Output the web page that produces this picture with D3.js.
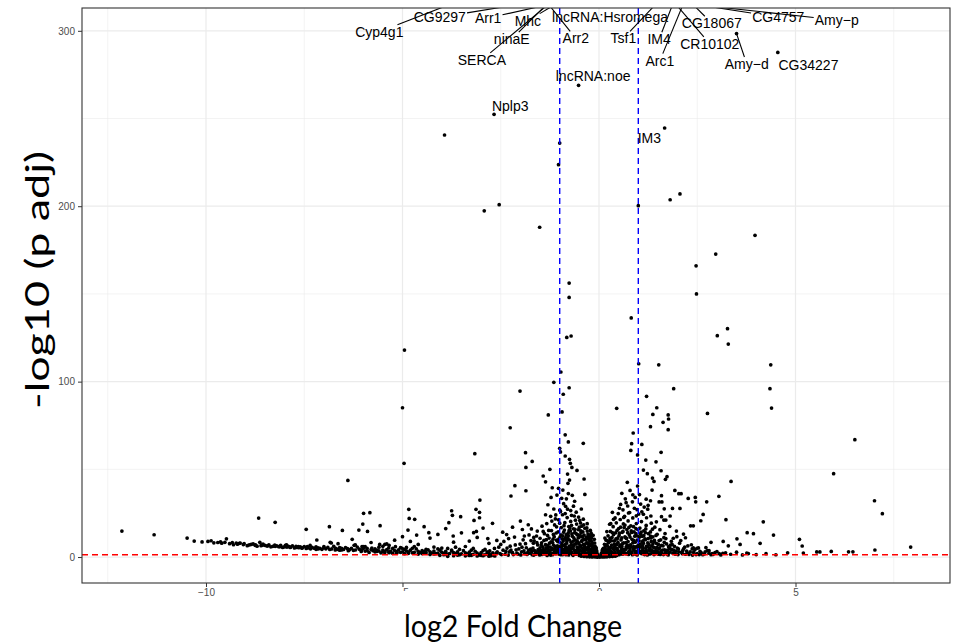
<!DOCTYPE html>
<html>
<head>
<meta charset="utf-8">
<script src="https://cdn.jsdelivr.net/npm/d3@7"></script>
<style>
  body { margin: 0; background: #fff; }
  svg { display: block; }
</style>
</head>
<body>
<div id="chart"></div>
<script>
// ---- data: [log2 fold change, -log10 p adj] ----
var topHits = [
  [-3.93,240.6],[-1.0,236],[-1.03,223.7],[-2.54,200.9],[-2.92,197.4],[-1.51,188],
  [1.0,200.3],[1.81,203.7],[2.06,207],[3.97,183.4],[2.97,172.7],[2.47,166],
  [2.48,150],[-0.76,156.2],[-0.76,148],[0.82,136.3],[-0.82,125.2],[-0.71,126],
  [3.27,130.2],[3.01,126.2],[3.29,121.4],[-4.95,118],[1.01,110.2],[1.52,109.6],
  [4.37,109.6],[-0.97,105.5],[-1.15,99.6],[-0.76,96.5],[1.9,96],[4.35,96],
  [-2.01,94.6],[-0.91,92.8],[-5.0,85.1],[0.45,84.8]
]

var midScatter = [
  [-0.94,82.7],[-1.29,81.0],[-4.96,53.4],[-2.26,73.7],[-0.86,69.7],[-0.40,64.8],[-0.78,65.6],
  [-1.0,62.0],[-0.98,59.9],[-1.87,59.5],[-1.70,54.5],[-0.86,57.6],[-0.75,55.7],[-3.16,58.9],
  [-0.73,53.4],[-1.86,51.1],[-1.25,50.0],[-0.69,51.1],[-0.56,49.4],[-1.42,46.2],[-0.80,47.3],
  [-1.36,42.9],[-0.38,44.5],[-2.14,40.7],[-0.75,43.9],[-0.79,42.0],[-1.19,39.5],[-1.03,39.2],
  [-0.92,38.2],[-1.86,37.8],[-2.24,34.8],[-1.07,35.3],[-1.22,34.0],[-0.83,33.2],[-0.68,35.2],
  [-0.36,35.7],[-3.03,32.5],[-4.84,27.2],[-3.13,27.2],[-3.04,25.5],[-3.75,26.4],[-4.83,22.0],
  [-4.69,21.5],[-3.04,22.4],[-3.73,23.8],[-3.82,19.6],[-3.52,23.0],[-2.71,19.2],[-3.18,20.9],
  [-1.36,24.1],[-1.0,26.8],[-4.45,17.3],[-4.33,13.9],[-4.86,15.4],[-5.57,17.9],[-3.19,13.9],
  [-3.12,14.6],[-4.64,12.5],[-3.71,12.0],[-2.83,10.5],
  [-12.14,14.8],[-11.32,12.7],[-10.48,10.8],[-9.87,9.3],[-9.63,8.7],[-9.52,8.4],[-9.48,10.4],
  [-9.33,8.2],[-9.23,8.0],[-9.13,8.0],[-9.03,7.6],[-8.85,7.2],[-8.74,7.0],[-8.66,22.2],
  [-8.63,8.4],[-8.58,6.8],[-8.50,6.7],[-8.43,6.4],[-8.24,19.8],[-8.24,6.1],[-8.12,5.9],
  [-7.98,6.7],[-7.94,5.7],[-7.86,5.5],[-7.71,6.1],[-7.64,5.3],[-7.56,5.0],[-7.45,15.8],
  [-7.42,5.9],[-7.34,4.7],[-7.18,9.7],[-7.15,5.3],[-7.05,4.4],[-6.86,17.3],[-6.84,8.4],
  [-6.81,8.0],[-6.64,7.6],[-6.53,15.2],[-6.39,43.7],[-6.28,10.1],[-6.23,6.7],[-6.11,15.4],
  [-6.01,18.8],[-5.99,24.9],[-5.89,14.6],[-5.83,25.3],[-5.58,7.2],[-5.45,7.2],[-5.34,6.7],
  [-5.18,5.9],[-5.01,5.0],[-6.71,4.0],[-6.38,3.6],[-6.03,5.9],[-5.95,5.9],[-5.78,5.1],
  [-5.70,3.0],[-5.50,3.0],[-5.34,2.5],[-5.14,2.5],
  [4.39,84.9],[1.21,91.6],[1.47,85.1],[1.37,81.3],[2.76,81.9],[1.76,81.0],[1.77,78.7],
  [1.63,76.8],[1.31,74.3],[1.76,72.6],[0.87,70.7],[0.83,64.6],[1.09,64.2],[1.58,59.7],
  [0.81,60.8],[6.51,66.9],[1.19,55.3],[1.45,54.3],[0.98,58.2],[1.58,49.2],[1.13,49.6],
  [1.23,47.5],[1.36,45.0],[1.40,43.1],[1.73,45.8],[1.69,44.3],[5.97,47.5],[3.36,43.1],
  [1.93,38.0],[2.03,36.1],[2.09,36.1],[1.59,35.0],[1.35,38.2],[2.27,33.4],[2.45,34.0],
  [2.46,31.5],[2.74,31.5],[3.05,34.6],[1.25,29.5],[1.31,32.1],[1.53,31.4],[1.60,31.4],
  [1.66,27.5],[1.87,27.7],[2.06,27.7],[2.65,24.3],[2.59,20.7],[7.01,32.1],[7.21,24.7],
  [3.23,21.3],[4.18,20.1],[2.33,17.8],[2.40,17.8],[1.81,23.4],[1.65,21.1],[1.70,21.1],
  [1.59,23.0],[3.77,13.9],[3.93,13.3],[4.44,12.5],[3.51,10.4],[3.59,7.2],[2.85,8.4],
  [3.29,6.4],[4.10,7.8],[5.10,10.1],[5.17,6.3],[5.20,2.3],[5.54,2.9],[5.62,2.9],
  [5.91,3.2],[6.35,3.0],[6.46,3.0],[7.02,4.0],[7.93,5.7],[3.16,8.9],[2.80,3.6],
  [3.76,2.3],[2.15,13.1],[1.98,11.6],[1.89,10.7],[2.49,5.0],[2.40,5.3],[2.88,1.9],
  [3.06,1.9],[3.15,2.1]
]

var leftCore = [
  [-1.62,2.1],[-1.55,4.3],[-1.51,1.2],[-1.47,6.8],[-1.44,3.1],[-1.40,9.5],[-1.38,1.8],[-1.35,5.2],
  [-1.31,12.4],[-1.29,3.6],[-1.26,7.9],[-1.23,1.1],[-1.21,15.1],[-1.19,4.8],[-1.17,10.2],[-1.15,2.5],
  [-1.13,18.3],[-1.11,6.1],[-1.09,13.7],[-1.07,3.3],[-1.05,8.8],[-1.03,21.2],[-1.01,1.6],[-0.99,11.5],
  [-0.97,5.4],[-0.96,16.8],[-0.94,2.7],[-0.93,24.1],[-0.91,9.1],[-0.90,14.2],[-0.88,4.2],[-0.87,19.6],
  [-0.85,7.3],[-0.84,1.3],[-0.83,12.8],[-0.81,22.5],[-0.80,3.9],[-0.79,10.6],[-0.77,17.4],[-0.76,6.2],
  [-0.75,2.2],[-0.73,14.9],[-0.72,20.3],[-0.71,8.4],[-0.69,4.6],[-0.68,11.9],[-0.67,1.5],[-0.65,16.1],
  [-0.64,6.9],[-0.63,23.4],[-0.61,9.8],[-0.60,3.2],[-0.59,13.5],[-0.57,18.8],[-0.56,5.7],[-0.55,2.0],
  [-0.53,10.9],[-0.52,15.6],[-0.51,7.6],[-0.49,3.8],[-0.48,12.2],[-0.47,19.4],[-0.45,1.7],[-0.44,8.9],
  [-0.43,5.1],[-0.41,14.3],[-0.40,2.9],[-0.39,10.1],[-0.37,6.6],[-0.36,16.4],[-0.35,1.4],[-0.33,4.4],
  [-0.32,11.3],[-0.31,8.1],[-0.29,2.4],[-0.28,13.1],[-0.27,5.9],[-0.25,3.5],[-0.24,9.4],[-0.23,1.9],
  [-0.21,7.2],[-0.20,4.1],[-0.19,11.0],[-0.17,2.6],[-0.16,6.0],[-0.15,1.2],[-0.13,4.7],[-0.12,2.3],
  [-0.11,8.0],[-0.09,3.4],[-0.08,1.5],[-0.07,5.2],[-0.05,2.0],[-0.04,0.9],[-0.03,1.3],
  [-1.58,8.2],[-1.49,3.9],[-1.42,14.6],[-1.36,7.1],[-1.33,2.6],[-1.27,10.8],[-1.24,5.6],[-1.18,8.3],
  [-1.16,12.9],[-1.12,3.0],[-1.08,17.2],[-1.06,6.4],[-1.02,10.4],[-0.98,2.1],[-0.95,7.7],[-0.92,12.1],
  [-0.89,17.9],[-0.86,3.4],[-0.82,9.3],[-0.78,13.8],[-0.74,4.9],[-0.70,18.1],[-0.66,9.0],[-0.62,14.0],
  [-0.58,7.9],[-0.54,12.6],[-0.50,17.0],[-0.46,6.3],[-0.42,11.6],[-0.38,4.0],[-0.34,9.7],[-0.30,14.8],
  [-0.26,7.7],[-0.22,12.4],[-0.18,8.6],[-0.14,3.1],[-0.10,6.2],[-0.06,3.6],
  [-0.96,5.9],[-0.86,10.4],[-0.76,15.2],[-0.66,5.0],[-0.56,9.2],[-0.46,13.8],[-0.36,7.4],[-0.26,10.5],
  [-0.86,24.8],[-0.72,26.5],[-0.60,21.0],[-0.52,22.8],[-0.44,17.6],[-1.0,19.3],[-1.1,24.0],[-1.2,20.5],
  [-0.8,27.3],[-0.65,29.0],[-0.9,30.4],[-0.4,21.6],[-0.3,19.0],[-0.22,15.2],[-0.15,12.4],
  [-2.61,2.3],[-2.55,5.6],[-2.48,1.4],[-2.42,8.9],[-2.37,3.2],[-2.31,1.1],[-2.26,6.2],[-2.2,2.5],
  [-2.15,11.4],[-2.11,4.1],[-2.06,1.7],[-2.01,7.4],[-1.97,3.0],[-1.93,9.8],[-1.89,1.9],[-1.85,5.3],
  [-1.81,2.8],[-1.78,12.6],[-1.74,4.5],[-1.7,1.3],[-1.67,7.9],[-1.64,3.7],[-2.45,14.2],[-2.3,10.5],
  [-1.95,15.7],[-1.8,18.4],[-1.66,11.2],[-1.72,16.0],[-2.2,17.0],[-2.0,20.5]
]

var leftCoreExtra = [
  [-1.68,5.1],[-1.65,9.3],[-1.61,1.6],[-1.59,12.0],[-1.56,6.9],[-1.53,3.4],[-1.5,10.7],[-1.48,1.9],
  [-1.46,8.1],[-1.43,5.8],[-1.41,2.4],[-1.39,13.3],[-1.37,4.0],[-1.34,9.9],[-1.32,0.9],[-1.3,6.5],
  [-1.28,15.2],[-1.25,2.9],[-1.22,8.7],[-1.2,4.4],[-1.18,1.3],[-1.16,6.8],[-1.14,11.6],[-1.12,5.2],
  [-1.1,1.9],[-1.08,9.6],[-1.06,3.8],[-1.04,14.4],[-1.02,6.0],[-1.0,2.6],[-0.99,8.2],[-0.97,12.7],
  [-0.95,3.9],[-0.93,10.3],[-0.92,1.4],[-0.9,6.6],[-0.88,15.4],[-0.87,2.5],[-0.85,11.1],[-0.83,5.3],
  [-0.82,8.0],[-0.8,1.9],[-0.78,12.2],[-0.77,4.5],[-0.75,9.7],[-0.74,16.6],[-0.72,3.0],[-0.7,7.0],
  [-0.69,13.2],[-0.67,5.6],[-0.66,1.0],[-0.64,10.9],[-0.62,3.7],[-0.61,15.8],[-0.59,7.5],[-0.58,1.6],
  [-0.56,12.9],[-0.54,4.7],[-0.53,8.5],[-0.51,2.2],[-0.5,11.4],[-0.48,6.5],[-0.46,15.0],[-0.45,3.4],
  [-0.43,9.6],[-0.41,1.1],[-0.4,7.1],[-0.38,12.5],[-0.37,2.9],[-0.35,5.5],[-0.33,10.2],[-0.32,1.7],
  [-0.3,7.9],[-0.28,4.2],[-0.27,11.8],[-0.25,1.2],[-0.24,6.4],[-0.22,3.1],[-0.21,9.5],[-0.19,2.2],
  [-0.18,5.0],[-0.16,7.8],[-0.15,3.6],[-0.13,1.6],[-0.12,5.7],[-0.1,2.7],[-0.09,4.3],[-0.07,1.1],
  [-0.06,2.9],
  [-1.57,14.8],[-1.45,17.6],[-1.33,19.1],[-1.23,23.2],[-1.11,21.7],[-0.98,26.0],[-0.85,28.9],
  [-0.7,23.8],[-0.58,25.6],[-0.49,20.9],[-0.39,18.3],[-0.31,16.6],[-0.2,13.6],[-0.12,10.1],
  [-1.15,27.4],[-0.95,33.5],[-0.62,31.8],[-0.78,36.2],[-1.3,29.8],[-0.45,27.4],
  [-2.78,3.5],[-2.7,1.8],[-2.66,4.9],[-2.59,3.0],[-2.52,2.0],[-2.5,7.2],[-2.44,3.9],[-2.39,1.6],
  [-2.34,5.1],[-2.28,2.9],[-2.24,4.0],[-2.18,1.4],[-2.13,6.9],[-2.09,2.3],[-2.04,4.6],[-1.99,1.2],
  [-1.96,5.6],[-1.91,3.5],[-1.87,7.6],[-1.83,1.5],[-1.79,4.0],[-1.76,2.2],[-1.73,9.4],[-1.71,3.2],
  [-2.35,12.8],[-1.9,12.0],[-2.6,9.5]
]

var rightCore = [
  [0.05,0.9],[0.06,2.1],[0.08,3.4],[0.09,1.4],[0.11,5.0],[0.12,2.6],[0.14,7.3],[0.15,1.2],
  [0.17,4.2],[0.18,9.6],[0.20,2.9],[0.21,6.5],[0.23,12.1],[0.24,1.7],[0.26,4.8],[0.27,8.9],
  [0.29,14.6],[0.30,3.1],[0.32,6.8],[0.33,11.2],[0.35,1.5],[0.36,17.3],[0.38,5.4],[0.39,9.2],
  [0.41,2.5],[0.42,13.8],[0.44,19.5],[0.45,7.1],[0.47,3.9],[0.48,11.0],[0.50,16.2],[0.51,1.3],
  [0.53,5.9],[0.54,21.4],[0.56,9.7],[0.57,2.8],[0.59,14.1],[0.60,7.6],[0.62,18.9],[0.63,4.3],
  [0.65,23.2],[0.66,11.5],[0.68,1.9],[0.69,8.3],[0.71,15.7],[0.72,5.2],[0.74,20.6],[0.75,3.0],
  [0.77,12.7],[0.78,25.4],[0.80,7.0],[0.81,17.8],[0.83,2.1],[0.84,10.1],[0.86,22.3],[0.87,4.7],
  [0.89,14.4],[0.90,27.8],[0.92,8.5],[0.93,1.6],[0.95,19.1],[0.96,6.0],[0.98,12.0],[0.99,3.6],
  [1.01,24.5],[1.02,9.3],[1.04,16.5],[1.05,2.4],[1.07,5.8],[1.08,20.2],[1.10,11.8],[1.11,3.9],
  [1.13,7.8],[1.14,15.0],[1.16,1.4],[1.17,10.4],[1.19,5.1],[1.20,18.0],[1.22,2.9],[1.24,8.1],
  [1.26,13.3],[1.28,4.4],[1.30,1.8],[1.32,10.9],[1.34,6.3],[1.36,15.9],[1.38,3.3],[1.40,8.7],
  [1.43,2.0],[1.45,12.3],[1.47,5.5],[1.50,3.0],[1.53,9.4],[1.56,1.5],[1.59,6.6],[1.62,4.0],
  [1.65,11.1],[1.69,2.6],[1.72,7.5],[1.76,1.2],[1.80,4.9],[1.84,9.0],[1.88,2.2],[1.92,6.1],
  [1.96,3.4],[2.01,1.4],[2.05,7.9],[2.10,2.7],[2.15,4.6],[2.2,1.6],[2.26,6.4],[2.32,2.9],
  [2.38,1.1],[2.44,4.2],[2.5,2.0],[2.57,3.3],[2.64,1.3],[2.72,5.4],[2.8,2.2],[2.9,1.5],
  [3.0,3.1],[3.1,1.2],[3.22,2.4],[3.35,1.6],[3.5,2.8],[3.65,1.2],[3.8,2.0],[4.0,1.4],
  [4.25,1.9],[4.5,1.3],[4.8,2.4],
  [0.16,5.8],[0.22,9.3],[0.28,3.6],[0.34,14.0],[0.40,6.1],[0.46,10.3],[0.52,13.6],[0.58,4.9],
  [0.64,16.8],[0.70,10.6],[0.76,6.4],[0.82,14.9],[0.88,9.5],[0.94,16.2],[1.00,6.8],[1.06,13.0],
  [1.12,9.2],[1.18,13.9],[1.25,5.9],[1.31,12.0],[1.37,7.4],[1.44,5.0],[1.51,7.2],[1.58,3.5],
  [1.66,8.4],[1.74,3.9],[1.82,6.8],[0.37,21.5],[0.49,24.8],[0.61,26.9],[0.73,29.1],[0.85,31.5],
  [0.97,27.0],[1.09,25.8],[1.21,22.4],[1.33,19.3],[1.42,17.0],[0.55,30.0],[0.92,34.0],[0.67,33.2],
  [1.15,28.5],[0.3,19.0],[0.2,14.5],[1.03,35.6],[0.79,38.0]
]

var rightCoreExtra = [
  [0.07,1.6],[0.1,3.1],[0.13,4.4],[0.16,2.2],[0.19,6.9],[0.21,3.9],[0.24,8.2],[0.25,5.3],
  [0.28,10.6],[0.31,2.2],[0.32,9.3],[0.35,4.9],[0.37,12.8],[0.39,7.4],[0.4,1.8],[0.43,10.3],
  [0.44,4.6],[0.46,15.2],[0.48,8.4],[0.49,2.6],[0.51,12.3],[0.53,6.9],[0.55,17.0],[0.56,3.7],
  [0.58,10.9],[0.6,1.6],[0.61,14.6],[0.63,8.1],[0.65,3.9],[0.66,18.2],[0.68,11.0],[0.69,5.7],
  [0.71,2.0],[0.73,13.9],[0.74,8.8],[0.76,16.9],[0.78,3.3],[0.79,11.4],[0.81,6.0],[0.83,14.0],
  [0.85,1.3],[0.86,8.1],[0.88,17.3],[0.89,4.2],[0.91,11.9],[0.93,5.6],[0.94,13.3],[0.96,2.8],
  [0.97,9.7],[0.99,15.7],[1.01,4.8],[1.03,11.4],[1.05,7.4],[1.07,14.2],[1.09,1.9],[1.1,8.6],
  [1.12,5.0],[1.14,12.2],[1.16,3.1],[1.18,9.9],[1.19,16.0],[1.21,6.2],[1.23,1.2],[1.25,10.5],
  [1.27,7.2],[1.29,3.6],[1.31,14.3],[1.33,8.9],[1.35,2.2],[1.37,11.5],[1.39,5.5],[1.41,9.5],
  [1.44,3.4],[1.46,7.8],[1.48,13.0],[1.51,1.6],[1.54,5.3],[1.57,9.8],[1.6,2.2],[1.63,6.4],
  [1.67,4.1],[1.7,10.5],[1.73,1.7],[1.77,5.9],[1.81,2.9],[1.86,7.2],[1.9,3.9],[1.94,1.6],
  [1.99,5.1],[2.03,3.0],[2.08,9.4],[2.12,1.9],[2.18,5.6],[2.23,3.4],[2.29,1.5],[2.35,7.0],
  [2.41,2.8],[2.47,1.4],[2.53,5.2],[2.6,2.5],[2.68,1.8],[2.76,3.7],[2.85,1.3],[2.95,2.5],
  [0.27,18.7],[0.41,22.3],[0.52,27.8],[0.63,22.6],[0.69,31.0],[0.75,25.1],[0.86,35.5],[0.95,23.5],
  [1.06,30.2],[1.13,24.4],[1.24,27.3],[1.32,23.4],[1.46,20.1],[1.55,15.6],[1.68,13.4],[1.8,17.5],
  [1.97,14.8],[2.2,11.0],[0.58,36.3],[0.98,40.5],[0.72,42.6],[1.2,33.0],[0.15,10.8],[0.34,25.5]
]

var coreBottom = [
  [-1.66,1.1],[-1.6,3.0],[-1.54,2.0],[-1.5,5.3],[-1.45,1.5],[-1.42,4.2],[-1.36,2.9],[-1.31,4.9],
  [-1.27,1.6],[-1.24,3.9],[-1.19,2.0],[-1.14,4.4],[-1.09,2.6],[-1.05,5.3],[-1.01,3.6],[-0.97,1.3],
  [-0.93,4.5],[-0.89,2.3],[-0.85,5.5],[-0.81,3.0],[-0.77,1.2],[-0.73,4.2],[-0.69,2.6],[-0.65,6.6],
  [-0.61,1.9],[-0.57,4.0],[-0.53,2.6],[-0.49,5.6],[-0.44,1.4],[-0.4,4.6],[-0.36,3.0],[-0.31,5.1],
  [-0.27,1.6],[-0.23,4.3],[-0.19,3.2],[-0.15,5.1],[-0.11,1.6],[-0.08,3.0],
  [0.09,4.3],[0.13,1.8],[0.17,3.5],[0.21,1.0],[0.26,2.8],[0.3,5.6],[0.34,2.5],[0.38,4.0],
  [0.42,1.3],[0.46,5.0],[0.5,3.2],[0.54,1.8],[0.58,6.2],[0.62,2.6],[0.67,4.3],[0.71,6.8],
  [0.75,1.5],[0.79,4.6],[0.84,2.9],[0.88,6.0],[0.92,3.2],[0.97,1.2],[1.01,5.5],[1.06,3.3],
  [1.11,6.4],[1.15,2.3],[1.2,4.0],[1.25,1.6],[1.3,5.0],[1.35,3.7],[1.4,1.4],[1.46,3.4],
  [1.52,4.6],[1.57,2.6],[1.64,1.4],[1.71,3.4],[1.78,2.4],[1.85,4.4],[1.93,2.4],[2.02,4.6],
  [2.13,3.6],[2.25,2.2],[2.37,4.6],[2.55,1.4],[2.7,2.9]
]

var leftTail = [
  [-10.1,8.6],[-9.8,8.1],[-9.6,7.9],[-9.4,7.6],[-9.2,7.3],[-9.05,7.1],[-8.9,6.9],[-8.75,6.7],
  [-8.6,6.5],[-8.45,6.3],[-8.3,6.1],[-8.15,5.9],[-8.0,5.8],[-7.85,5.6],[-7.7,5.5],[-7.55,5.3],
  [-7.4,5.2],[-7.25,5.0],[-7.1,4.9],[-6.95,4.7],[-6.8,4.6],[-6.65,4.4],[-6.5,4.3],[-6.35,4.1],
  [-6.2,4.0],[-6.05,3.9],[-5.9,3.7],[-5.75,3.6],[-5.6,3.5],[-5.45,3.3],[-5.3,3.2],[-5.15,3.1],
  [-5.0,3.0],[-4.85,2.8],[-4.7,2.7],[-4.55,2.6],[-4.4,2.5],[-4.25,2.3],[-4.1,2.2],[-3.95,2.1],
  [-3.8,2.0],[-3.65,1.9],[-3.5,1.8],[-3.35,1.7],[-3.2,1.5],[-3.05,1.4],[-2.9,1.3],[-2.75,1.2],
  [-8.8,7.5],[-8.4,7.0],[-8.1,6.6],[-7.8,6.4],[-7.5,6.0],[-7.2,5.8],[-6.9,5.5],[-6.6,5.4],
  [-6.3,5.0],[-6.0,4.8],[-5.7,4.6],[-5.4,4.3],[-5.1,4.1],[-4.8,3.9],[-4.5,3.6],[-4.2,3.4],
  [-3.9,3.2],[-3.6,3.0],[-3.3,2.8],[-3.0,2.6],[-2.7,2.4],
  [-6.2,6.9],[-5.8,8.3],[-5.5,6.1],[-5.2,9.6],[-4.9,5.5],[-4.6,7.2],[-4.3,10.8],[-4.0,5.1],
  [-3.7,8.5],[-3.4,6.0],[-3.1,11.2],[-2.9,4.4],[-2.8,7.8],[-4.1,12.9],[-3.5,13.8],[-5.0,11.6],
  [-4.8,8.9],[-3.3,9.1],[-2.95,16.5],[-3.9,16.2],[-4.45,3.1],[-5.35,5.2],[-3.75,4.0],
  [-4.05,1.0],[-3.7,0.8],[-3.4,0.7],[-3.1,0.6],[-2.8,0.5],[-3.85,0.4],[-3.55,1.3],[-3.25,1.0],
  [-2.95,0.8],[-2.65,0.6]
]

var leftTailExtra = [
  [-8.95,6.5],[-8.7,6.2],[-8.55,6.9],[-8.35,5.8],[-8.2,6.4],[-8.05,5.5],[-7.9,6.1],[-7.75,5.2],
  [-7.6,5.8],[-7.45,4.9],[-7.3,5.5],[-7.15,4.6],[-7.0,5.3],[-6.85,4.3],[-6.7,5.0],[-6.55,4.0],
  [-6.4,4.8],[-6.25,3.8],[-6.1,4.5],[-5.95,3.4],[-5.8,4.2],[-5.65,3.2],[-5.5,4.0],[-5.35,2.9],
  [-5.2,3.7],[-5.05,2.7],[-4.9,3.5],[-4.75,2.4],[-4.6,3.3],[-4.45,2.2],[-4.3,3.0],[-4.15,1.9],
  [-4.0,2.8],[-3.85,1.7],[-3.7,2.6],[-3.55,1.5],[-3.4,2.4],[-3.25,1.3],[-3.1,2.2],[-2.95,1.1],
  [-2.8,2.0],[-2.68,1.0],
  [-6.0,6.0],[-5.6,5.6],[-5.25,4.9],[-4.95,4.4],[-4.65,4.6],[-4.35,4.1],[-4.05,3.9],[-3.75,3.5],
  [-3.45,3.6],[-3.15,3.3],[-2.85,3.0],[-5.85,2.6],[-5.55,2.4],[-5.25,2.1],[-4.95,1.9],[-4.6,1.7],
  [-4.3,1.5],[-3.95,1.3],[-3.6,1.1],[-3.3,0.9],[-3.0,1.0],[-2.75,0.8],
  [-9.3,7.0],[-9.7,8.3],[-9.95,8.9],[-10.3,9.1],[-9.15,7.8],[-8.55,7.4],[-7.95,7.0],[-7.35,6.6],
  [-6.75,6.1],[-6.15,5.7],[-5.4,7.5],[-4.7,6.0],[-4.2,5.7],[-3.65,5.6],[-3.2,4.9],
  [-7.0,6.0],[-6.45,5.4],[-5.9,5.0],[-5.65,4.0],[-5.45,2.6],[-5.15,2.3],[-4.85,2.1],[-4.5,2.0],
  [-4.2,1.8],[-3.9,1.7],[-3.6,1.5],[-3.35,1.4],[-3.05,1.2],[-2.85,1.6],[-4.4,4.4],[-4.1,4.6],
  [-3.85,4.9],[-3.55,4.4],[-3.25,3.9],[-2.95,3.6],[-4.75,5.0],[-5.05,5.4],[-6.55,4.9],[-7.65,5.9],
  [-8.25,6.8],[-6.05,3.2],[-6.6,3.9],[-7.2,4.4]
]

var nullCluster = [
  [-0.45,0.5],[-0.38,0.3],[-0.31,0.2],[-0.24,0.1],[-0.17,0.05],[-0.1,0.02],[-0.04,0.0],[0.02,0.0],
  [0.08,0.03],[0.14,0.08],[0.2,0.15],[0.27,0.25],[0.34,0.35],[0.41,0.5],[-0.2,0.35],[0.1,0.3],
  [-0.05,0.2],[0.25,0.6],[0.45,0.9],[-0.5,0.9]
]

// labelled genes (points above the panel are clipped, only their segments show)
var geneNames = ["Cyp4g1","CG9297","Arr1","Mhc","ninaE","SERCA","Arr2","lncRNA:Hsromega",
  "Tsf1","IM4","Arc1","CG18067","CR10102","CG4757","Amy\u2212p","Amy\u2212d","CG34227",
  "lncRNA:noe","Nplp3","IM3"]
var geneLfc = [-3.22,-0.69,-0.27,-0.74,-1.11,-1.03,-1.46,0.28,1.65,1.96,2.23,2.17,1.77,1.05,0.36,
  3.5,4.55,-0.52,-2.67,1.67]
var genePadj = [320,320,320,320,320,320,320,320,320,320,320,320,320,320,320,
  298.4,287.7,268.9,252.4,244.6]
// repelled label anchor (data units)
var labelAt = [[-5.59,299.5],[-4.05,307.7],[-2.82,307.3],[-1.81,305.8],[-2.22,295.2],[-2.98,283.4],
  [-0.59,295.7],[0.28,307.7],[0.62,295.7],[1.53,295.2],[1.55,283.0],[2.87,304.3],[2.82,292.5],
  [4.56,307.7],[6.05,306.2],[3.76,281.1],[5.33,280.5],[-0.15,274.2],[-2.26,257.1],[1.28,238.7]]

var fcCut = [-1, 1]
var padjCut = 1.3
var xTicks = [-10, -5, 0, 5]
var yTicks = [0, 100, 200, 300]

// ---- layout ----
var margin = { left: 82, right: 7, top: 8, bottom: 61 }
var chartWidth = 957
var chartHeight = 644
var width = chartWidth - margin.left - margin.right
var height = chartHeight - margin.top - margin.bottom

var svg = d3.select("#chart")
  .append("svg")
  .attr("width", chartWidth)
  .attr("height", chartHeight)

svg.append("defs").append("clipPath").attr("id", "panel")
  .append("rect").attr("width", width).attr("height", height)

var g = svg.append("g").attr("transform", "translate(" + margin.left + "," + margin.top + ")")

var x = d3.scaleLinear().domain([-13.155, 8.931]).range([0, width])
var y = d3.scaleLinear().domain([-14.8, 313]).range([height, 0])

// grid (theme_bw)
var xMinor = [-12.5, -7.5, -2.5, 2.5, 7.5]
var yMinor = [50, 150, 250]
g.selectAll(".vminor").data(xMinor).enter().append("line")
  .attr("x1", d => x(d)).attr("x2", d => x(d)).attr("y1", 0).attr("y2", height)
  .attr("stroke", "#ebebeb").attr("stroke-width", 0.6)
g.selectAll(".hminor").data(yMinor).enter().append("line")
  .attr("y1", d => y(d)).attr("y2", d => y(d)).attr("x1", 0).attr("x2", width)
  .attr("stroke", "#ebebeb").attr("stroke-width", 0.6)
g.selectAll(".vmajor").data(xTicks).enter().append("line")
  .attr("x1", d => x(d)).attr("x2", d => x(d)).attr("y1", 0).attr("y2", height)
  .attr("stroke", "#ebebeb").attr("stroke-width", 1.2)
g.selectAll(".hmajor").data(yTicks).enter().append("line")
  .attr("y1", d => y(d)).attr("y2", d => y(d)).attr("x1", 0).attr("x2", width)
  .attr("stroke", "#ebebeb").attr("stroke-width", 1.2)

// points
var allPoints = [].concat(nullCluster, leftTail, leftTailExtra, leftCore, leftCoreExtra,
  rightCore, rightCoreExtra, coreBottom, midScatter, topHits)
var plot = g.append("g").attr("clip-path", "url(#panel)")
plot.selectAll("circle.pt").data(allPoints).enter().append("circle")
  .attr("cx", d => x(d[0])).attr("cy", d => y(d[1])).attr("r", 1.85)
  .attr("fill", "#000")
plot.selectAll("circle.gene").data(geneNames).enter().append("circle")
  .attr("cx", (d, i) => x(geneLfc[i])).attr("cy", (d, i) => y(genePadj[i])).attr("r", 1.85)
  .attr("fill", "#000")

// thresholds
plot.selectAll(".vcut").data(fcCut).enter().append("line")
  .attr("x1", d => x(d)).attr("x2", d => x(d)).attr("y1", 0).attr("y2", height)
  .attr("stroke", "#0000ff").attr("stroke-width", 1.4).attr("stroke-dasharray", "6,4")
plot.append("line")
  .attr("x1", 0).attr("x2", width).attr("y1", y(padjCut)).attr("y2", y(padjCut))
  .attr("stroke", "#ff0000").attr("stroke-width", 1.4).attr("stroke-dasharray", "6,4")

// gene labels + segments
var segLayer = plot.append("g")
var textLayer = plot.append("g")
geneNames.forEach(function(name, i) {
  var cx = x(labelAt[i][0]), cy = y(labelAt[i][1])
  var px = x(geneLfc[i]), py = y(genePadj[i])
  var t = textLayer.append("text")
    .attr("x", cx).attr("y", cy)
    .attr("text-anchor", "middle").attr("dominant-baseline", "central")
    .attr("font-family", "'Liberation Sans', Arial, sans-serif").attr("font-size", 14)
    .attr("fill", "#000").text(name)
  var bb = t.node().getBBox()
  // skip the segment when the point sits right next to its label
  var ox = Math.max(bb.x - px, 0, px - (bb.x + bb.width))
  var oy = Math.max(bb.y - py, 0, py - (bb.y + bb.height))
  if (Math.hypot(ox, oy) < 14) return
  var dx = px - cx, dy = py - cy
  var hw = bb.width / 2 + 1, hh = bb.height / 2 - 1
  var s = Math.min(dx ? hw / Math.abs(dx) : Infinity, dy ? hh / Math.abs(dy) : Infinity)
  if (s >= 1) return
  segLayer.append("line")
    .attr("x1", cx + dx * s).attr("y1", cy + dy * s).attr("x2", px).attr("y2", py)
    .attr("stroke", "#000").attr("stroke-width", 1.1)
})

// panel border
g.append("rect").attr("width", width).attr("height", height)
  .attr("fill", "none").attr("stroke", "#333333").attr("stroke-width", 1.1)

// axes
var xAxis = g.append("g").attr("transform", "translate(0," + height + ")")
  .call(d3.axisBottom(x).tickValues(xTicks).tickSize(4).tickPadding(2)
    .tickFormat(d => d < 0 ? "\u2212" + Math.abs(d) : d))
var yAxis = g.append("g")
  .call(d3.axisLeft(y).tickValues(yTicks).tickSize(4).tickPadding(3))
;[xAxis, yAxis].forEach(function(a) {
  a.select(".domain").remove()
  a.selectAll(".tick line").attr("stroke", "#333333")
  a.selectAll(".tick text").attr("fill", "#4d4d4d")
    .attr("font-family", "'Liberation Sans', Arial, sans-serif").attr("font-size", 10)
})

// axis titles (slide text boxes)
svg.append("rect").attr("x", 396).attr("y", 591).attr("width", 234).attr("height", 53).attr("fill", "#fff")
svg.append("text")
  .attr("x", 513).attr("y", 625)
  .attr("text-anchor", "middle").attr("dominant-baseline", "central")
  .attr("font-family", "Lato, 'Open Sans', sans-serif").attr("font-size", 30)
  .attr("textLength", 218).attr("lengthAdjust", "spacingAndGlyphs")
  .text("log2 Fold Change")
svg.append("text")
  .attr("transform", "translate(36,280) rotate(-90)")
  .attr("text-anchor", "middle").attr("dominant-baseline", "central")
  .attr("font-family", "Lato, 'Open Sans', sans-serif").attr("font-size", 33)
  .attr("textLength", 258).attr("lengthAdjust", "spacingAndGlyphs")
  .text("-log10 (p adj)")
</script>
</body>
</html>
